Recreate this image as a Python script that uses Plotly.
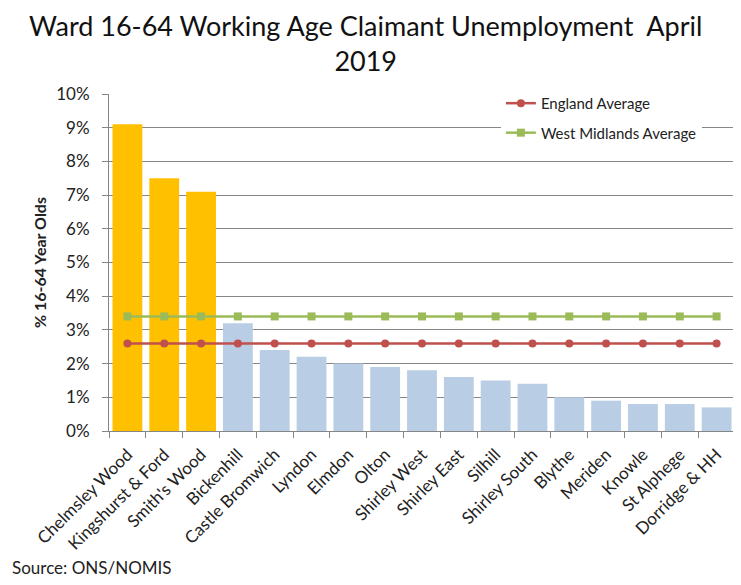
import plotly.graph_objects as go

wards = ["Chelmsley Wood", "Kingshurst & Ford", "Smith's Wood", "Bickenhill", "Castle Bromwich",
         "Lyndon", "Elmdon", "Olton", "Shirley West", "Shirley East", "Silhill", "Shirley South",
         "Blythe", "Meriden", "Knowle", "St Alphege", "Dorridge & HH"]
rates = [9.1, 7.5, 7.1, 3.2, 2.4, 2.2, 2.0, 1.9, 1.8, 1.6, 1.5, 1.4, 1.0, 0.9, 0.8, 0.8, 0.7]
highlight = [True, True, True] + [False] * 14
england_avg = [2.6] * 17
wm_avg = [3.4] * 17
y_ticks = [0, 1, 2, 3, 4, 5, 6, 7, 8, 9, 10]
y_tick_labels = [f"{v}%" for v in y_ticks]

FONT = "Lato, 'Open Sans', sans-serif"
bar_colors = ["#FFC000" if h else "#B9CDE5" for h in highlight]

fig = go.Figure()
fig.add_trace(go.Bar(x=wards, y=rates, marker=dict(color=bar_colors, line=dict(width=0)),
                     showlegend=False, hoverinfo="x+y"))
fig.add_trace(go.Scatter(x=wards, y=england_avg, mode="lines+markers", name="England Average",
                         line=dict(color="#C0504D", width=2.5),
                         marker=dict(symbol="circle", size=8, color="#C0504D"),
                         legendgroup="a"))
fig.add_trace(go.Scatter(x=wards, y=wm_avg, mode="lines+markers", name="West Midlands Average",
                         line=dict(color="#9BBB59", width=2.5),
                         marker=dict(symbol="square", size=8, color="#9BBB59"),
                         legendgroup="b"))

fig.update_layout(
    width=733, height=577,
    margin=dict(l=101, r=6, t=86, b=154, autoexpand=False),
    paper_bgcolor="white", plot_bgcolor="white",
    font=dict(family=FONT, color="#222222", size=15),
    title=dict(text="Ward 16-64 Working Age Claimant Unemployment  April<br>2019",
               x=0.488, xanchor="center", y=0.952, yanchor="top",
               font=dict(size=27, color="#111111", family=FONT)),
    bargap=0.19,
    showlegend=True,
    legend=dict(x=0.626, y=1.021, xanchor="left", yanchor="top", bgcolor="white",
                font=dict(size=15, color="#222222", family=FONT),
                tracegroupgap=7, itemwidth=30),
    annotations=[dict(text="Source: ONS/NOMIS", xref="paper", yref="paper", x=-0.158, y=-0.4036,
                      xanchor="left", yanchor="middle", showarrow=False,
                      font=dict(size=17, color="#222222", family=FONT))],
)
fig.update_xaxes(range=[-0.5, len(wards) - 0.5], tickangle=-45, tickson="boundaries",
                 ticks="outside", ticklen=6,
                 tickcolor="#868686", showline=True, linecolor="#868686", linewidth=1,
                 showgrid=False, automargin=False, ticklabelstandoff=6,
                 tickfont=dict(size=17, family=FONT, color="#222222"))
fig.update_yaxes(range=[0, 10], tickvals=y_ticks, ticktext=y_tick_labels, showgrid=True,
                 gridcolor="#868686", gridwidth=1, showline=True, linecolor="#868686",
                 ticks="outside", ticklen=6, tickcolor="#868686", zeroline=False,
                 automargin=False, ticklabelstandoff=9,
                 tickfont=dict(size=17, family=FONT, color="#222222"),
                 title=dict(text="<b>% 16-64 Year Olds</b>", font=dict(size=16, family=FONT),
                            standoff=5))

fig.write_html("out.html")
